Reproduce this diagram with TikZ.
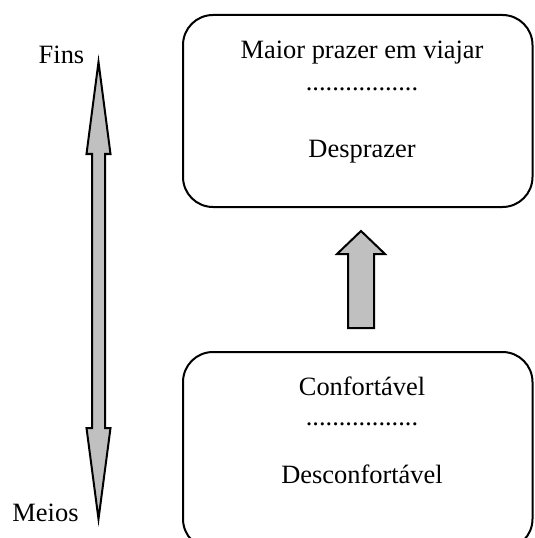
\documentclass[tikz,border=0pt]{standalone}
\usepackage{fontspec}
\setmainfont{Liberation Serif}
\definecolor{arrowgray}{HTML}{C0C0C0}

\begin{document}
\begin{tikzpicture}[x=0.025cm,y=-0.025cm,
    box/.style={draw,line width=0.05cm,rounded corners=0.75cm},
    blockarrow/.style={draw,line width=0.05cm,fill=arrowgray,line join=miter},
    txt/.style={font=\fontsize{18.8}{22}\selectfont,inner sep=0pt,anchor=base}]
  \useasboundingbox (0,0) rectangle (534,538);
  \clip (0,0) rectangle (534,538);
  % boxes
  \draw[box] (183,15) rectangle (532.5,207);
  \draw[box] (183,352) rectangle (532.5,549);
  \node[txt] (maior) at (362,59) {Maior prazer em viajar};
  \node[txt] (dotstop) at (362,91) {.................};
  \node[txt] (despr) at (362,158) {Desprazer};
  \node[txt] (conf) at (362,395) {Confortável};
  \node[txt] (dotsbot) at (362,425) {.................};
  \node[txt] (desconf) at (362,483) {Desconfortável};
  % arrow between the boxes
  \draw[blockarrow] (348,328)--(348,254)--(337,254)--(361,231)--(385,254)--(374,254)--(374,328)--cycle;
  % double arrow
  \draw[blockarrow] (98.5,62)--(110.5,154)--(105,154)--(105,428)--(110.5,428)--(98.5,519)
    --(86.5,428)--(92,428)--(92,154)--(86.5,154)--cycle;
  \node[txt] (fins) at (61.5,64) {Fins};
  \node[txt] (meios) at (45.5,521) {Meios};
\end{tikzpicture}
\end{document}
